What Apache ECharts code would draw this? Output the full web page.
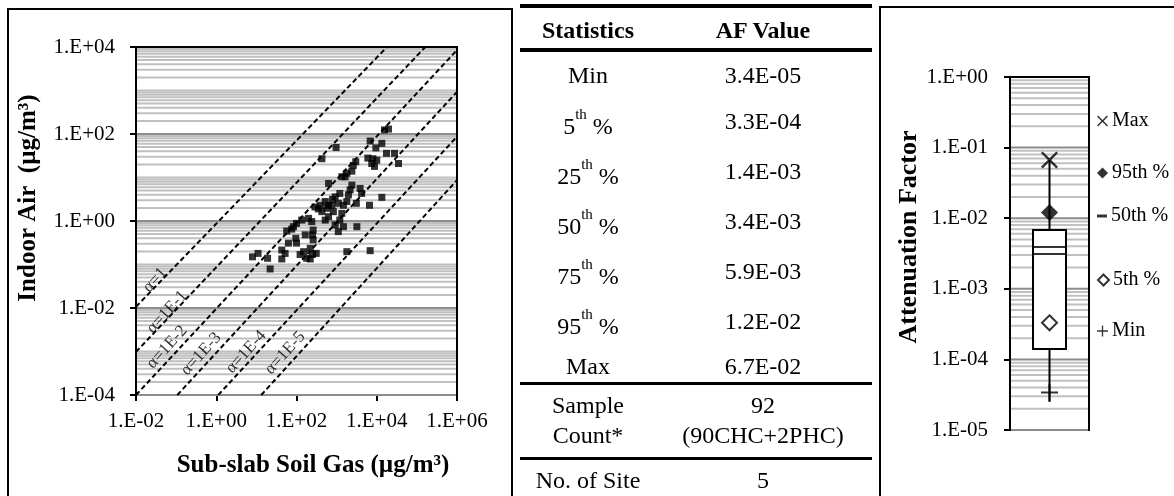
<!DOCTYPE html>
<html>
<head>
<meta charset="utf-8">
<script src="https://cdn.jsdelivr.net/npm/echarts@6/dist/echarts.min.js"></script>
<style>
  html, body { margin: 0; padding: 0; background: #fff; }
  #wrap { position: relative; width: 1174px; height: 496px; overflow: hidden; font-family: 'Liberation Serif', 'Times New Roman', serif; color: #000; }
  #chart { position: absolute; left: 0; top: 0; width: 1174px; height: 496px; }
  .cell { position: absolute; width: 220px; text-align: center; font-size: 24px; line-height: 30px; white-space: nowrap; }
  .head { font-weight: bold; }
  .sup { position: relative; top: -15px; font-size: 15px; }
  .rule { position: absolute; left: 520px; width: 352px; background: #000; }
</style>
</head>
<body>
<div id="wrap">
  <div id="chart"></div>
  <div id="table"></div>
</div>
<script>
// ---- scatter: sub-slab soil gas vs indoor air (ug/m3) ----
const soilGas = [15600, 19600, 6850, 13400, 9500, 970, 430, 17500, 27700, 34800,
  6000, 8000, 10000, 8800, 3000, 2600, 2400, 1800, 1350, 630,
  2400, 3850, 4200, 13400, 6600, 3100, 1200, 920, 760, 1970,
  1800, 520, 390, 290, 570, 830, 1350, 1480, 520, 630,
  1100, 1480, 3200, 200, 135, 100, 84, 260, 165, 96,
  57, 260, 63, 43, 220, 310, 123, 180, 220, 43,
  19, 11, 8, 22, 1800, 6850, 430, 1200, 1100, 150,
  250, 52, 250, 100, 2170, 1630, 7500, 630, 240, 920,
  350, 790, 76];
const indoorAir = [124, 130, 69, 61, 48, 49, 27, 36, 36, 21,
  28, 27, 25, 18, 23, 19, 14, 12.5, 10.4, 7.3,
  6.7, 5.6, 4.3, 3.5, 2.3, 2.55, 4.3, 3.6, 2.3, 4.0,
  2.8, 2.8, 2.3, 2.1, 1.96, 1.64, 1.5, 2.3, 1.05, 1.26,
  0.57, 0.74, 0.74, 1.15, 1.05, 0.88, 0.74, 0.62, 0.48, 0.40,
  0.59, 0.37, 0.31, 0.215, 0.235, 0.18, 0.17, 0.139, 0.134, 0.134,
  0.139, 0.18, 0.15, 0.079, 0.197, 0.208, 1.64, 1.05, 2.55, 0.197,
  0.17, 0.18, 0.48, 0.31, 5.2, 10.4, 21, 2.3, 0.97, 0.81,
  1.9, 3.15, 0.65];

// attenuation reference lines: start / end points [soil gas, indoor air]
const alphaNames = ['α=1', 'α=1E-1', 'α=1E-2', 'α=1E-3', 'α=1E-4', 'α=1E-5'];
const alphaStart = [[0.01, 0.0107], [0.01, 0.00098], [0.01, 0.0001], [0.107, 0.0001], [1.12, 0.0001], [13.2, 0.0001]];
const alphaEnd = [[18000, 10000], [162000, 10000], [1e6, 8500], [1e6, 930], [1e6, 87], [1e6, 8.7]];
const alphaLabelAt = [[0.0298, 0.044], [0.0593, 0.0081], [0.0593, 0.00127], [0.418, 0.000877], [5.53, 0.000975], [52, 0.000925]];

// ---- table ----
const statNames = ['Min', '5th %', '25th %', '50th %', '75th %', '95th %', 'Max'];
const afValues = ['3.4E-05', '3.3E-04', '1.4E-03', '3.4E-03', '5.9E-03', '1.2E-02', '6.7E-02'];
const sampleCount = '92';
const sampleDetail = '(90CHC+2PHC)';
const siteCount = '5';

// ---- box plot of attenuation factor ----
const boxWhiskerLow = 2.5e-5;
const boxBottom = 1.4e-4;
const boxTop = 6.8e-3;
const boxWhiskerHigh = 6.7e-2;
const boxMidLines = [3.1e-3, 3.9e-3];
const afMax = 6.7e-2;
const af95 = 1.2e-2;
const af5 = 3.3e-4;
const afMin = 3.4e-5;

const FONT = 'Liberation Serif';
const lg = Math.log10;
const sciLabel = v => '1.E' + (v < 0 ? '-' : '+') + String(Math.abs(Math.round(v))).padStart(2, '0');

// table markup
(function buildTable() {
  const rowY = [74.5, 120.5, 170.5, 220.5, 270.5, 320.5, 365.5];
  const colL = 588, colR = 763;
  let html = '';
  const cell = (txt, cx, cy, cls, shift) =>
    `<div class="cell ${cls || ''}" style="left:${cx - 110}px;top:${cy - 15 + (shift || 0)}px">${txt}</div>`;
  html += cell('Statistics', colL, 30, 'head');
  html += cell('AF Value', colR, 30, 'head');
  statNames.forEach((s, i) => {
    const m = s.match(/^(\d+)th (.*)$/);
    const lbl = m ? `${m[1]}<span class="sup">th</span> ${m[2]}` : s;
    html += cell(lbl, colL, rowY[i], '', m ? 5 : 0);
    html += cell(afValues[i], colR, rowY[i]);
  });
  html += cell('Sample', colL, 405) + cell('Count*', colL, 435);
  html += cell(sampleCount, colR, 405) + cell(sampleDetail, colR, 435);
  html += cell('No. of Site', colL, 480) + cell(siteCount, colR, 480);
  html += '<div class="rule" style="top:4px;height:4px"></div>';
  html += '<div class="rule" style="top:48px;height:4px"></div>';
  html += '<div class="rule" style="top:382px;height:3px"></div>';
  html += '<div class="rule" style="top:457px;height:3px"></div>';
  document.getElementById('table').innerHTML = html;
})();

function decadeLines(lo, hi, majorEvery) {
  const out = [];
  for (let k = lo; k < hi; k++) {
    for (let m = 1; m <= 9; m++) {
      out.push([0, k + lg(m), m === 1 && (k - lo) % majorEvery === 0 ? 1 : 0]);
    }
  }
  return out;
}

function gridLineSeries(xi, lines) {
  return {
    type: 'custom', xAxisIndex: xi, yAxisIndex: xi, silent: true, z: 1,
    data: lines,
    renderItem(params, api) {
      const cs = params.coordSys;
      const y = api.coord([api.value(0), api.value(1)])[1];
      const major = api.value(2) === 1;
      return {
        type: 'line',
        shape: { x1: cs.x + 1, y1: y, x2: cs.x + cs.width - 1, y2: y },
        style: { stroke: major ? '#8c8c8c' : '#c0c0c0', lineWidth: 2 }
      };
    }
  };
}

const X_PATH = 'path://M0,0.1 L0.1,0 L0.5,0.4 L0.9,0 L1,0.1 L0.6,0.5 L1,0.9 L0.9,1 L0.5,0.6 L0.1,1 L0,0.9 L0.4,0.5 Z';
const PLUS_PATH = 'path://M0.44,0 H0.56 V0.44 H1 V0.56 H0.56 V1 H0.44 V0.56 H0 V0.44 H0.44 Z';
const BOX_W = 33;

const axisText = { fontFamily: FONT, fontSize: 21, color: '#000' };
const blackLine = { lineStyle: { color: '#000', width: 2 } };

const series = [
  gridLineSeries(0, decadeLines(-4, 4, 2)),
  ...alphaNames.map((n, i) => ({
    type: 'line', xAxisIndex: 0, yAxisIndex: 0, silent: true, z: 2,
    symbol: 'none',
    lineStyle: { color: '#000', width: 2, type: [5, 3] },
    data: [[lg(alphaStart[i][0]), lg(alphaStart[i][1])], [lg(alphaEnd[i][0]), lg(alphaEnd[i][1])]]
  })),
  {
    type: 'scatter', xAxisIndex: 0, yAxisIndex: 0, silent: true, z: 4,
    symbolSize: 0,
    data: alphaNames.map((n, i) => ({ name: n, value: [lg(alphaLabelAt[i][0]), lg(alphaLabelAt[i][1])] })),
    label: { show: true, position: 'inside', formatter: '{b}', rotate: 48, fontFamily: FONT, fontSize: 17,
      color: '#000', textBorderWidth: 0, textShadowBlur: 0 }
  },
  {
    type: 'scatter', xAxisIndex: 0, yAxisIndex: 0, z: 3,
    symbol: 'rect', symbolSize: 7,
    itemStyle: { color: '#000' },
    data: soilGas.map((x, i) => [lg(x), lg(indoorAir[i])])
  },
  gridLineSeries(1, decadeLines(-5, 0, 1)),
  {
    type: 'custom', xAxisIndex: 1, yAxisIndex: 1, silent: true, z: 3,
    data: [[0, lg(boxWhiskerLow), lg(boxBottom), lg(boxTop), lg(boxWhiskerHigh)]],
    renderItem(params, api) {
      const p = k => api.coord([api.value(0), api.value(k)]);
      const lo = p(1), b = p(2), t = p(3), hi = p(4);
      const cx = lo[0];
      const ls = { stroke: '#000', lineWidth: 2 };
      return {
        type: 'group',
        children: [
          { type: 'line', shape: { x1: cx, y1: lo[1], x2: cx, y2: b[1] }, style: ls },
          { type: 'line', shape: { x1: cx, y1: t[1], x2: cx, y2: hi[1] }, style: ls },
          { type: 'rect', shape: { x: cx - BOX_W / 2, y: t[1], width: BOX_W, height: b[1] - t[1] },
            style: { fill: '#fff', stroke: '#000', lineWidth: 2 } }
        ]
      };
    }
  },
  { name: 'Max', type: 'scatter', xAxisIndex: 1, yAxisIndex: 1, z: 5,
    symbol: X_PATH, symbolSize: 17, itemStyle: { color: '#000' }, data: [[0, lg(afMax)]] },
  { name: '95th %', type: 'scatter', xAxisIndex: 1, yAxisIndex: 1, z: 5,
    symbol: 'diamond', symbolSize: 17, itemStyle: { color: '#000' }, data: [[0, lg(af95)]] },
  { name: '50th %', type: 'scatter', xAxisIndex: 1, yAxisIndex: 1, z: 5,
    symbol: 'rect', symbolSize: [BOX_W, 2], itemStyle: { color: '#000' },
    data: boxMidLines.map(v => [0, lg(v)]) },
  { name: '5th %', type: 'scatter', xAxisIndex: 1, yAxisIndex: 1, z: 5,
    symbol: 'diamond', symbolSize: 15, itemStyle: { color: '#fff', borderColor: '#000', borderWidth: 2 },
    data: [[0, lg(af5)]] },
  { name: 'Min', type: 'scatter', xAxisIndex: 1, yAxisIndex: 1, z: 5,
    symbol: PLUS_PATH, symbolSize: 17, itemStyle: { color: '#000' }, data: [[0, lg(afMin)]] }
];

const legendRows = [['Max', 123, 11, 11], ['95th %', 175, 11, 11], ['50th %', 218, 10, 3], ['5th %', 282, 11, 11], ['Min', 333, 11, 11]];

const option = {
  animation: false,
  backgroundColor: '#fff',
  grid: [
    { left: 136, top: 47, width: 321, height: 348, show: true, borderColor: '#000', borderWidth: 2, backgroundColor: 'transparent' },
    { left: 1010, top: 77, width: 79, height: 353, show: true, borderColor: '#000', borderWidth: 2, backgroundColor: 'transparent' }
  ],
  xAxis: [
    { type: 'value', gridIndex: 0, min: -2, max: 6, interval: 2,
      axisLine: { onZero: false, ...blackLine }, axisTick: { length: 6, ...blackLine },
      axisLabel: { ...axisText, margin: 16, formatter: sciLabel },
      splitLine: { show: false } },
    { type: 'category', gridIndex: 1, data: [''], boundaryGap: true,
      axisLine: { onZero: false, ...blackLine }, axisTick: { length: 6, ...blackLine },
      axisLabel: { show: false }, splitLine: { show: false } }
  ],
  yAxis: [
    { type: 'value', gridIndex: 0, min: -4, max: 4, interval: 2,
      axisLine: { show: true, onZero: false, ...blackLine }, axisTick: { show: true, length: 6, ...blackLine },
      axisLabel: { ...axisText, margin: 21, formatter: sciLabel },
      splitLine: { show: false } },
    { type: 'value', gridIndex: 1, min: -5, max: 0, interval: 1,
      axisLine: { show: true, onZero: false, ...blackLine }, axisTick: { show: true, length: 6, ...blackLine },
      axisLabel: { ...axisText, margin: 22, formatter: sciLabel },
      splitLine: { show: false } }
  ],
  legend: legendRows.map(([n, cy, w, h]) => ({
    data: [n], left: 1097, top: cy - 12, padding: 0, itemGap: 0,
    itemWidth: w, itemHeight: h, selectedMode: false,
    textStyle: { fontFamily: FONT, fontSize: 20, color: '#000', padding: [0, 0, 0, -1] }
  })),
  graphic: [
    { type: 'rect', shape: { x: 8, y: 9, width: 504, height: 520 }, style: { fill: 'none', stroke: '#000', lineWidth: 2 }, silent: true },
    { type: 'rect', shape: { x: 880, y: 7, width: 320, height: 520 }, style: { fill: 'none', stroke: '#000', lineWidth: 2 }, silent: true },
    { type: 'text', x: 29, y: 198, rotation: Math.PI / 2, silent: true,
      style: { text: 'Indoor Air  (µg/m³)', font: `bold 25px "${FONT}"`, fill: '#000', align: 'center', verticalAlign: 'middle' } },
    { type: 'text', x: 313, y: 466, silent: true,
      style: { text: 'Sub-slab Soil Gas (µg/m³)', font: `bold 25px "${FONT}"`, fill: '#000', align: 'center', verticalAlign: 'middle' } },
    { type: 'text', x: 909, y: 237, rotation: Math.PI / 2, silent: true,
      style: { text: 'Attenuation Factor', font: `bold 26px "${FONT}"`, fill: '#000', align: 'center', verticalAlign: 'middle' } }
  ],
  series
};

const chart = echarts.init(document.getElementById('chart'), null, { renderer: 'canvas' });
chart.setOption(option);
</script>
</body>
</html>
